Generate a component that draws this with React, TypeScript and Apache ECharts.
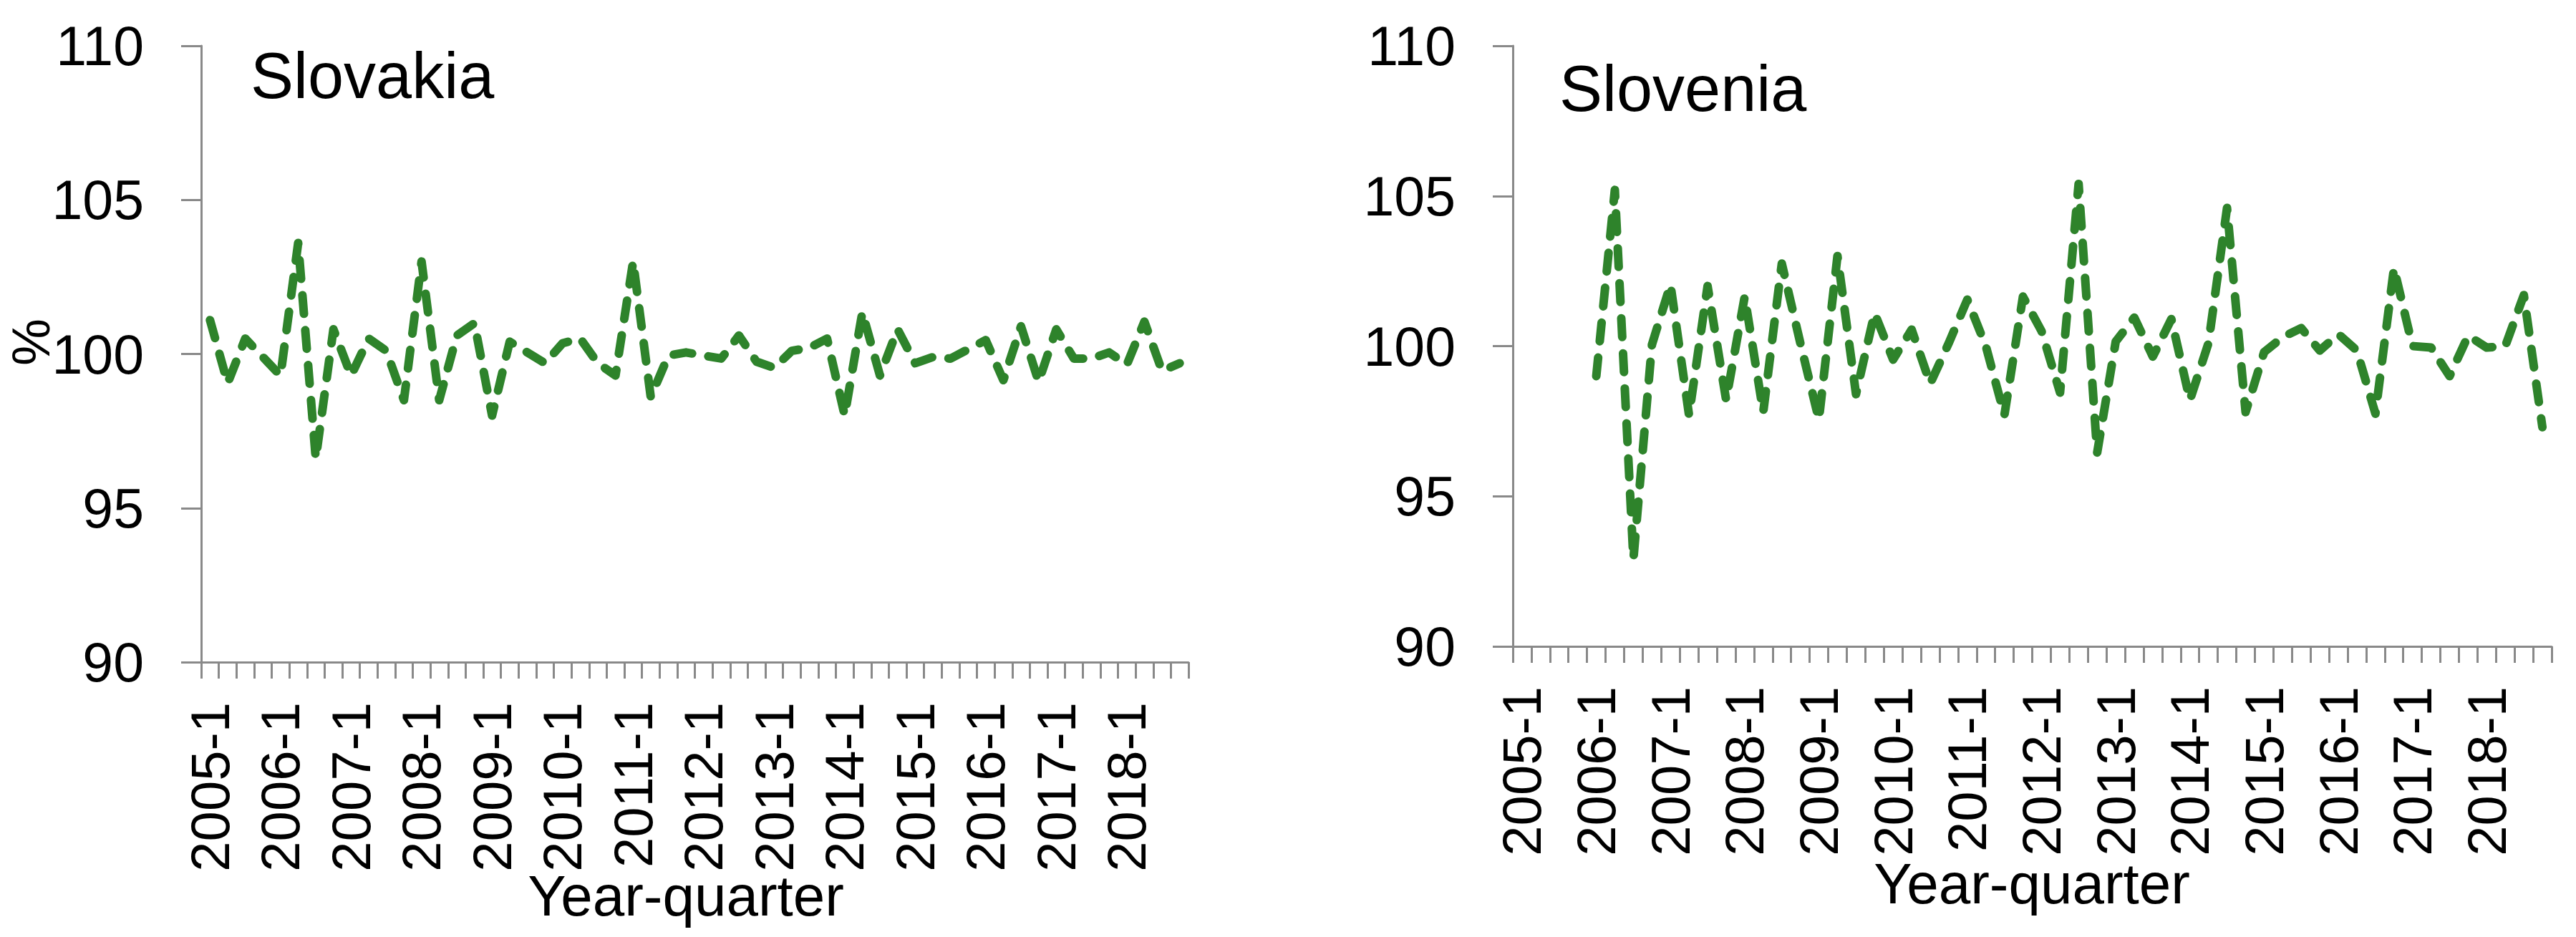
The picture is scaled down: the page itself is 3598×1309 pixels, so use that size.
import React, { useEffect, useRef } from "react";
import * as echarts from "echarts";

const quarters: string[] = [
  "2005-1", "2005-2", "2005-3", "2005-4",
  "2006-1", "2006-2", "2006-3", "2006-4",
  "2007-1", "2007-2", "2007-3", "2007-4",
  "2008-1", "2008-2", "2008-3", "2008-4",
  "2009-1", "2009-2", "2009-3", "2009-4",
  "2010-1", "2010-2", "2010-3", "2010-4",
  "2011-1", "2011-2", "2011-3", "2011-4",
  "2012-1", "2012-2", "2012-3", "2012-4",
  "2013-1", "2013-2", "2013-3", "2013-4",
  "2014-1", "2014-2", "2014-3", "2014-4",
  "2015-1", "2015-2", "2015-3", "2015-4",
  "2016-1", "2016-2", "2016-3", "2016-4",
  "2017-1", "2017-2", "2017-3", "2017-4",
  "2018-1", "2018-2", "2018-3", "2018-4",
];

const slovakia: (number | null)[] = [
  101.1, 99.05, 100.5, 99.9,
  99.3, 103.6, 96.6, 100.8,
  99.3, 100.5, 100.1, 98.5,
  103.0, 98.5, 100.6, 101.0,
  98.0, 100.4, 100.05, 99.7,
  100.35, 100.5, 99.7, 99.3,
  103.0, 98.6, 99.95, 100.05,
  99.95, 99.85, 100.6, 99.75,
  99.55, 100.1, 100.2, 100.5,
  98.0, 101.35, 99.3, 100.8,
  99.7, 99.9, 99.85, 100.15,
  100.45, 99.15, 100.9, 99.1,
  100.8, 99.85, 99.85, 100.05,
  99.65, 101.05, 99.45, 99.7,
];

const slovenia: (number | null)[] = [
  null, null, null, null,
  99.0, 105.2, 92.9, 100.05,
  102.05, 97.7, 102.0, 98.2,
  101.65, 97.8, 102.75, 100.1,
  97.55, 103.0, 98.4, 101.1,
  99.55, 100.55, 98.75, 100.1,
  101.55, 100.0, 97.7, 101.65,
  100.5, 98.45, 105.4, 96.45,
  100.15, 100.95, 99.65, 100.9,
  98.2, 100.1, 104.6, 97.8,
  99.8, 100.3, 100.6, 99.85,
  100.4, 99.85, 97.75, 102.6,
  100.0, 99.95, 99.0, 100.35,
  99.95, 100.0, 101.7, 97.3,
];

const yTicks = { min: 90, max: 110, step: 5 };
const panelTitles = ["Slovakia", "Slovenia"];
const xAxisTitle = "Year-quarter";
const yAxisTitle = "%";

const FONT = "'Liberation Sans', Arial, sans-serif";
const AXIS_COLOR = "#898989";
const LINE_COLOR = "#2E832B";

export default function App() {
  const ref = useRef<HTMLDivElement>(null);

  useEffect(() => {
    if (!ref.current) return;
    const chart = echarts.init(ref.current, undefined, { renderer: "svg" });

    const grids = [
      { left: 281, top: 64, width: 1379, height: 861 },
      { left: 2113, top: 64, width: 1451, height: 839 },
    ];

    const axisLineStyle = { color: AXIS_COLOR, width: 3 };

    const titleText = (text: string, x: number, y: number, size: number, align: string) => ({
      type: "text",
      x,
      y,
      style: {
        text,
        fontSize: size,
        fontFamily: FONT,
        fill: "#000000",
        align,
        verticalAlign: "middle",
      },
    });

    const option: any = {
      animation: false,
      backgroundColor: "#ffffff",
      grid: grids,
      xAxis: grids.map((_, gi) => ({
        type: "category",
        gridIndex: gi,
        data: quarters,
        boundaryGap: true,
        axisLine: { show: true, onZero: false, lineStyle: axisLineStyle },
        axisTick: {
          show: true,
          interval: 0,
          length: 23,
          alignWithLabel: false,
          lineStyle: axisLineStyle,
        },
        axisLabel: {
          interval: 3,
          rotate: 90,
          margin: 56,
          fontSize: 76,
          color: "#000000",
          fontFamily: FONT,
        },
        splitLine: { show: false },
      })),
      yAxis: grids.map((_, gi) => ({
        type: "value",
        gridIndex: gi,
        min: yTicks.min,
        max: yTicks.max,
        interval: yTicks.step,
        axisLine: { show: true, onZero: false, lineStyle: axisLineStyle },
        axisTick: { show: true, length: 28, lineStyle: axisLineStyle },
        axisLabel: {
          margin: 80,
          fontSize: 77,
          color: "#000000",
          fontFamily: FONT,
        },
        splitLine: { show: false },
      })),
      series: [slovakia, slovenia].map((d, gi) => ({
        type: "line",
        xAxisIndex: gi,
        yAxisIndex: gi,
        data: d,
        showSymbol: false,
        symbol: "none",
        connectNulls: false,
        lineStyle: {
          color: LINE_COLOR,
          width: 12,
          type: [26, 23],
          cap: "round",
          join: "round",
        },
      })),
      graphic: [
        titleText(panelTitles[0], 350, 106, 90, "left"),
        titleText(panelTitles[1], 2178, 124, 90, "left"),
        titleText(xAxisTitle, 958, 1251, 80, "center"),
        titleText(xAxisTitle, 2838, 1234, 80, "center"),
        {
          type: "text",
          x: 43,
          y: 478,
          rotation: Math.PI / 2,
          style: {
            text: yAxisTitle,
            fontSize: 74,
            fontFamily: FONT,
            fill: "#000000",
            align: "center",
            verticalAlign: "middle",
          },
        },
      ],
    };

    chart.setOption(option);
    return () => {
      chart.dispose();
    };
  }, []);

  return (
    <div
      ref={ref}
      style={{ position: "absolute", left: 0, top: 0, width: 3598, height: 1309, background: "#fff" }}
    />
  );
}
